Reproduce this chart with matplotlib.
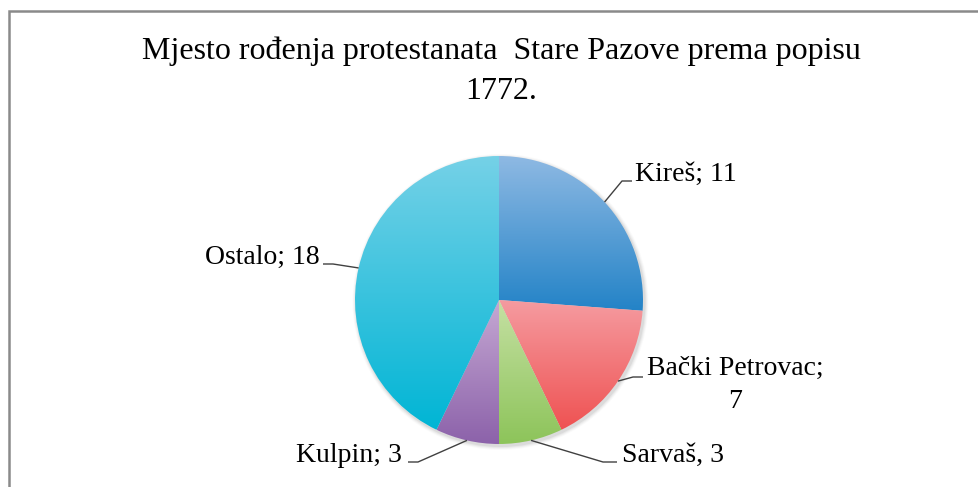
import numpy as np
import matplotlib
matplotlib.use("Agg")
import matplotlib.pyplot as plt
from matplotlib.colors import LinearSegmentedColormap, to_rgb
from matplotlib.patches import Rectangle, Circle

# ---- data ----
title_lines = ["Mjesto rođenja protestanata  Stare Pazove prema popisu", "1772."]
categories = ["Kireš", "Bački Petrovac", "Sarvaš", "Kulpin", "Ostalo"]
values = [11, 7, 3, 3, 18]
label_texts = ["Kireš; 11", "Bački Petrovac;\n7", "Sarvaš, 3", "Kulpin; 3", "Ostalo; 18"]
grad_top = ["#8EB9E3", "#F59BA0", "#C5E0A3", "#C5A8D3", "#75D1E7"]
grad_bot = ["#2383C7", "#EF5252", "#8DC45A", "#8C62AA", "#00B5D5"]

W, H = 979, 487
fig = plt.figure(figsize=(W / 100, H / 100), dpi=100)
ax = fig.add_axes([0, 0, 1, 1])

def Y(y):  # pixel-from-top to data y
    return H - y

SERIF = ["Liberation Serif", "DejaVu Serif"]

cx, cy, R = 499, Y(300), 144

wedges, _ = ax.pie(values, center=(cx, cy), radius=R, startangle=90,
                   counterclock=False,
                   wedgeprops=dict(facecolor="none", edgecolor="none",
                                   linewidth=0),
                   frame=True)
ax.set_xlim(0, W)
ax.set_ylim(0, H)
ax.set_aspect("auto")
ax.axis("off")

# chart border
ax.add_patch(Rectangle((9, Y(600)), 1100, 600 - 11, fill=False,
                       edgecolor="#8a8a8a", linewidth=1.8, zorder=1))

# faint shadow
for i, a in enumerate([0.05, 0.04, 0.03, 0.02]):
    ax.add_patch(Circle((cx + 1.5, cy - 2), R + 1 + i, color="black",
                        alpha=a, lw=0, zorder=2))

for w, ct, cb in zip(wedges, grad_top, grad_bot):
    th = np.radians(np.linspace(w.theta1, w.theta2, 200))
    xs = np.concatenate([[cx], cx + R * np.cos(th)])
    ys = np.concatenate([[cy], cy + R * np.sin(th)])
    x0, x1, y0, y1 = xs.min(), xs.max(), ys.min(), ys.max()
    cmap = LinearSegmentedColormap.from_list("g", [to_rgb(cb), to_rgb(ct)])
    grad = np.linspace(0, 1, 256).reshape(-1, 1)
    im = ax.imshow(grad, cmap=cmap, extent=(x0, x1, y0, y1), origin="lower",
                   aspect="auto", zorder=3, interpolation="bilinear")
    im.set_clip_path(w)
    w.set_zorder(3)

ax.set_xlim(0, W)
ax.set_ylim(0, H)

# title
for k, ln in enumerate(title_lines):
    ax.text(501, Y(59 + 40 * k), ln, ha="center", va="baseline", fontsize=23,
            family=SERIF, color="black", zorder=5)

# labels: (text x, text baseline y, ha, elbow x)  in pixels
label_pos = [(635, 181, "left", 622),
             (735, 375, "center", 633),
             (622, 462, "left", 603),
             (402, 462, "right", 418),
             (320, 264, "right", 333)]
line_end = [632, 643, 617, 408, 323]

for w, txt, (tx, ty, ha, ex), le in zip(wedges, label_texts, label_pos, line_end):
    mid = np.radians((w.theta1 + w.theta2) / 2)
    sx, sy = cx + R * np.cos(mid), cy + R * np.sin(mid)
    lines = txt.split("\n")
    for k, ln in enumerate(lines):
        ax.text(tx, Y(ty + 33 * k), ln, ha=ha, va="baseline", fontsize=20,
                family=SERIF, zorder=5)
    ly = ty + (2 if len(lines) > 1 else 0)
    ax.plot([sx, ex, le], [sy, Y(ly), Y(ly)], color="#404040", lw=1.0,
            zorder=4, solid_capstyle="butt")

fig.savefig("out.png", dpi=100)
